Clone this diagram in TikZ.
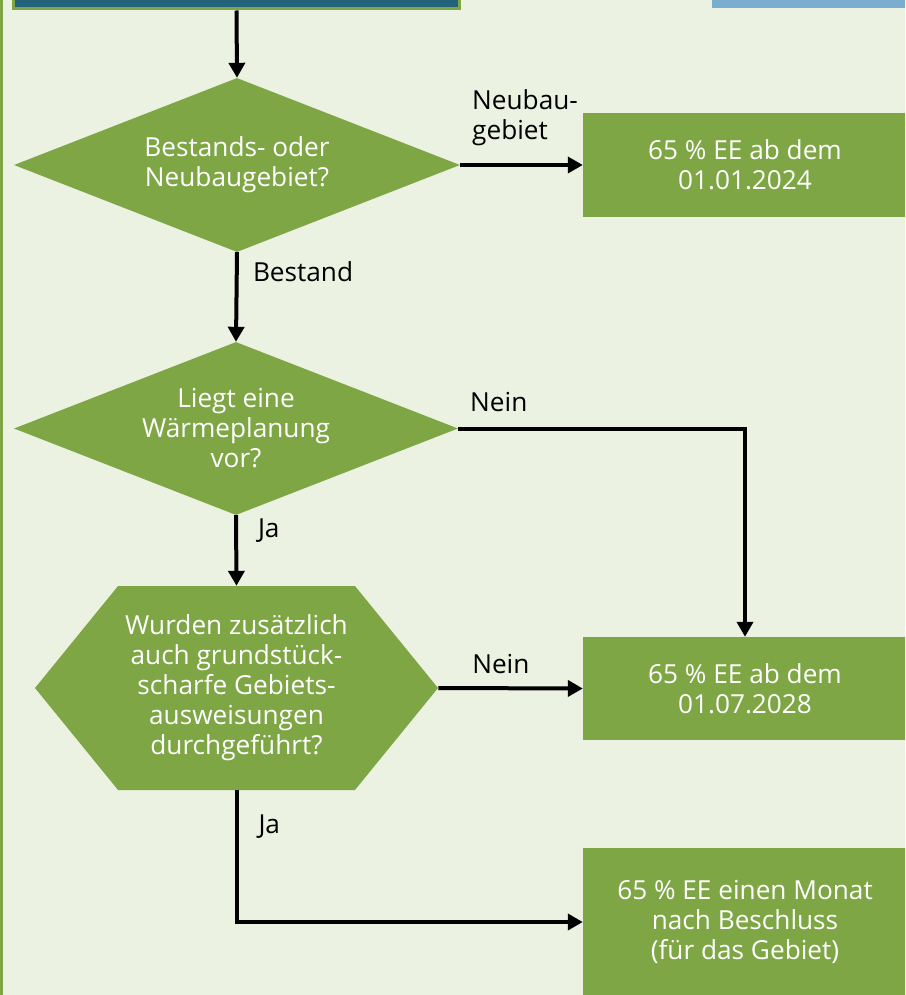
\documentclass[tikz,border=0pt]{standalone}
\usepackage{fontspec}
\setmainfont{Open Sans}
\usetikzlibrary{arrows.meta, shapes.geometric, shapes.symbols}
\definecolor{leaf}{HTML}{7EA644}
\definecolor{paper}{HTML}{EBF2E2}
\definecolor{petrol}{HTML}{22637A}
\definecolor{sky}{HTML}{7BADD0}

\begin{document}
\begin{tikzpicture}[x=1pt, y=-1pt,
  txt/.style = {font=\fontsize{26.2}{30}\selectfont, align=center},
  ask/.style = {txt, diamond, aspect=2.56, fill=leaf, text=white, inner sep=0pt, minimum width=446pt, minimum height=174pt},
  res/.style = {txt, rectangle, fill=leaf, text=white, inner sep=0pt, minimum width=324pt},
  lbl/.style = {font=\fontsize{26.2}{30}\selectfont, align=left, text=black, inner sep=0pt},
  arr/.style = {line width=4pt, -{Triangle[length=15pt, width=16pt]}}]
\path[use as bounding box, clip] (0,0) rectangle (905,995);
\fill[paper] (0,0) rectangle (905,995);
\fill[leaf] (0,0) rectangle (3,995);
\fill[sky] (712,-10) rectangle (915,8);
\node[draw=leaf, line width=3pt, fill=petrol, minimum width=446pt, minimum height=58pt, inner sep=0pt] (top) at (236.5,-20) {};

\node[ask] (d1) at (237,165) {Bestands- oder\\Neubaugebiet?};
\node[res, minimum height=104pt] (r1) at (745,165) {65 \% EE ab dem\\01.01.2024};
\node[ask, minimum width=444pt, minimum height=173pt] (d2) at (236,428.5) {Liegt eine\\Wärmeplanung\\vor?};
\node[txt, signal, signal to=west and east, signal pointer angle=101.7, fill=leaf, text=white, inner sep=0pt, minimum width=403pt, minimum height=204pt] (d3) at (236.5,688) {Wurden zusätzlich\\auch grundstück-\\scharfe Gebiets-\\ausweisungen\\durchgeführt?};
\node[res, minimum height=103pt] (r2) at (745,688.5) {65 \% EE ab dem\\01.07.2028};
\node[res, minimum height=148pt] (r3) at (745,922) {65 \% EE einen Monat\\nach Beschluss\\(für das Gebiet)};

\draw[arr] (top.south) -- (d1.north);
\draw[arr] (d1.east) -- (r1.west) node[lbl, pos=0, anchor=south west, xshift=10pt, yshift=17pt] {Neubau-\\gebiet};
\draw[arr] (d1.south) -- (d2.north) node[lbl, pos=0, anchor=base west, xshift=14pt, yshift=-29pt] {Bestand};
\draw[arr] (d2.east) -| (r2.north) node[lbl, pos=0, anchor=base west, xshift=10pt, yshift=17pt] {Nein};
\draw[arr] (d2.south) -- (d3.north) node[lbl, pos=0, anchor=base west, xshift=20pt, yshift=-22pt] {Ja};
\draw[arr] (d3.east) -- (r2.west) node[lbl, pos=0, anchor=base west, xshift=32pt, yshift=15pt] {Nein};
\draw[arr] (d3.south) |- (r3.west) node[lbl, pos=0, anchor=base west, xshift=20pt, yshift=-43pt] {Ja};
\end{tikzpicture}
\end{document}
